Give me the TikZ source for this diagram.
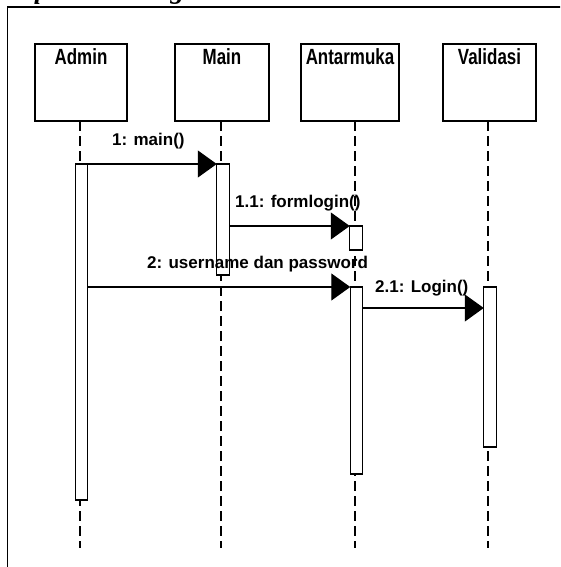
\documentclass[tikz,border=0pt]{standalone}
\usepackage{fontspec}
\setmainfont{Liberation Serif}
\newfontfamily\hdfont{Liberation Sans Bold}[FakeStretch=0.77]
\newfontfamily\msgfont{Liberation Sans Bold}
\usetikzlibrary{arrows.meta}
\begin{document}
\begin{tikzpicture}[x=1pt,y=-1pt,
  headbox/.style={draw, line width=1.5pt, minimum width=#1, minimum height=77pt, inner sep=0pt, outer sep=0pt},
  hdtxt/.style={inner sep=0pt, anchor=base, font=\hdfont\fontsize{22}{26}\selectfont},
  actbar/.style={draw, fill=white, line width=1.3pt, minimum width=12.5pt, minimum height=#1, inner sep=0pt, outer sep=0pt},
  lifeline/.style={line width=1.2pt, dash pattern=on 10pt off 5pt},
  msg/.style={line width=1.4pt, -{Triangle[length=19pt,width=27pt]}},
  msgtxt/.style={inner sep=0pt, anchor=base west, font=\msgfont\fontsize{17}{20}\selectfont},
  frameline/.style={line width=1.8pt}
]
\useasboundingbox (0,0) rectangle (560,567);
\clip (0,0) rectangle (560,567);

% partially visible title (cut off at the top edge, as in the reference)
\node[anchor=base west, inner sep=0pt, font=\fontsize{28}{32}\selectfont\bfseries\itshape] (title) at (0,-1.5) {\spaceskip=18pt Sequence Diagram};

% frame
\coordinate (fbl) at (7.5,570);
\coordinate (ftl) at (7.5,7);
\coordinate (ftr) at (562,7);
\draw[frameline] (fbl) -- (ftl) -- (ftr);

% lifeline heads
\node[headbox=92pt] (admin) at (81,82.5) {};
\node[headbox=94pt] (main) at (222,82.5) {};
\node[headbox=98pt] (antar) at (350,82.5) {};
\node[headbox=93pt] (valid) at (489.5,82.5) {};

\node[hdtxt] (adminT) at ([yshift=-21pt]admin.north) {Admin};
\node[hdtxt] (mainT) at ([yshift=-21pt]main.north) {Main};
\node[hdtxt] (antarT) at ([yshift=-21pt]antar.north) {Antarmuka};
\node[hdtxt] (validT) at ([yshift=-21pt]valid.north) {Validasi};

% lifelines
\coordinate (admTop) at (80,121);   \coordinate (admEnd) at (80,548);
\coordinate (mainTop) at (221,121); \coordinate (mainEnd) at (221,548);
\coordinate (antTop) at (355,121);  \coordinate (antEnd) at (355,548);
\coordinate (valTop) at (488,121);  \coordinate (valEnd) at (488,548);
\draw[lifeline] (admTop) -- (admEnd);
\draw[lifeline] (mainTop) -- (mainEnd);
\draw[lifeline] (antTop) -- (antEnd);
\draw[lifeline] (valTop) -- (valEnd);

% activation bars
\node[actbar=336pt] (admBar) at (81.5,332) {};
\node[actbar=111pt] (mainBar) at (223,219.5) {};
\node[actbar=24pt] (antS) at (356,238) {};
\node[actbar=187pt] (antB) at (356.5,380.5) {};
\node[actbar=160pt] (valB) at (490,367) {};

% messages
\draw[msg] (admBar.north east) -- (mainBar.north west);
\draw[msg] (mainBar.east |- antS.north) -- (antS.north west);
\draw[msg] (admBar.east |- antB.north) -- (antB.north west);
\draw[msg] ([yshift=-21pt]antB.north east) -- ([yshift=-21pt]valB.north west);

% message labels
\node[msgtxt] (l1) at (112,146) {1: main()};
\node[msgtxt] (l11) at (235,207) {1.1: formlogin()};
\node[msgtxt] (l2) at (147,268) {2: username dan password};
\node[msgtxt] (l21) at (375,292) {2.1: Login()};
\end{tikzpicture}
\end{document}
